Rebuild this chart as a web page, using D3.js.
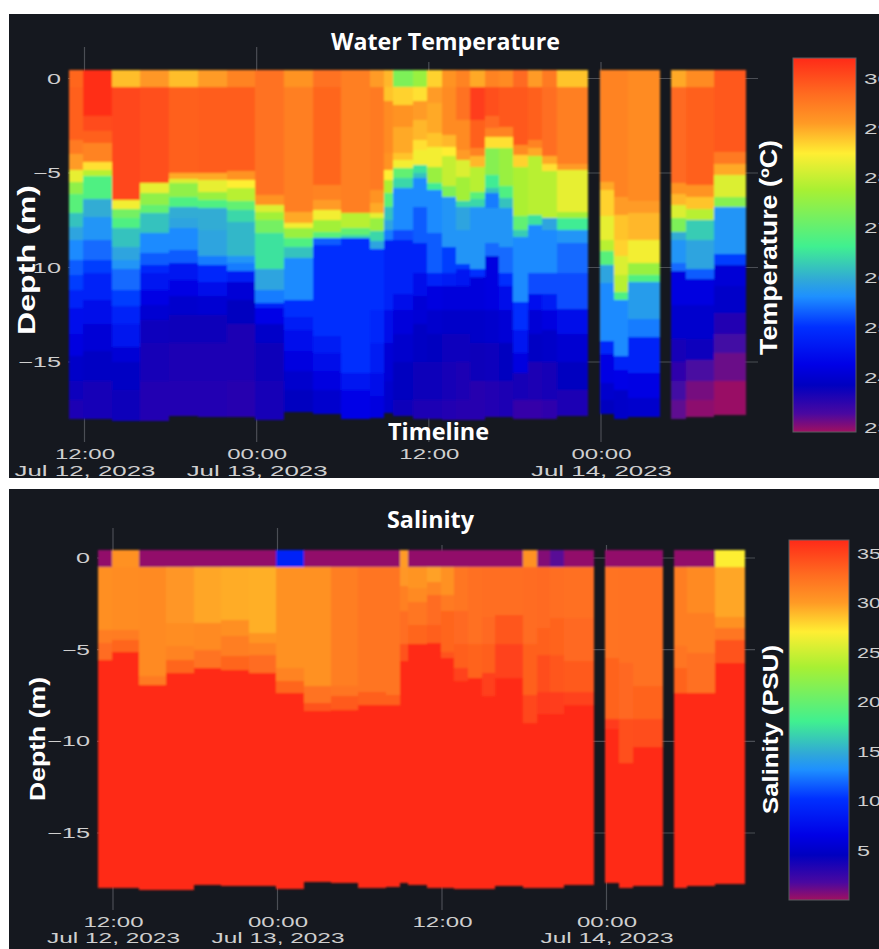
<!DOCTYPE html>
<html><head><meta charset="utf-8">
<style>html,body{margin:0;padding:0;background:#fff}svg{display:block}</style>
<script src="https://cdn.jsdelivr.net/npm/d3@7"></script>
</head><body>
<svg id="c" width="879" height="949"></svg>
<script>
// ---------- DATA ----------
// column edges, hours after 12:00 Jul 12 2023, one list per continuous block of data
const blockEdges = [
  [-1.1,-0.1,1.9,3.9,5.9,7.9,9.9,11.9,13.9,15.9,17.9,19.9,20.9,21.5,22.9,23.9,24.9,25.9,26.9,27.9,28.9,29.9,30.9,31.9,32.9,35.1],
  [35.9,36.9,37.9,40.1],
  [40.9,41.9,43.9,46.1]
];
// deepest sample of each column (m)
const bottomDepths = [18,18,18.1,18.1,17.85,17.9,17.9,18.05,17.65,17.75,18,17.95,17.7,17.85,18,18,18.05,18.05,18.05,17.9,17.9,18,18,18,17.85,17.75,18,17.9,18,17.9,17.8];
const surfaceTop = 0.45;
// each column: [depth of lower edge (m), temperature degC] from the surface down
const tempProfiles = [
 [[.47,29.75],[3.26,29.8],[4,29.5],[4.85,29.1],[5.45,28.3],[6.1,27.5],[7.14,26.9],[7.85,26.2],[8.55,25.9],[9.6,25.6],[10.4,25.3],[11.2,25.1],[12.15,24.8],[13.5,24.45],[14.7,24.2],[16,23.95],[17,23.8],[19,23.65]],
 [[2,30.35],[2.8,30.05],[3.4,29.8],[4.4,29.4],[4.85,28.6],[5.15,27.9],[6.4,26.8],[7.35,26],[8.55,25.7],[9.6,25.4],[10.3,25.1],[11.7,24.8],[13,24.4],[14.4,24.1],[16,23.9],[19,23.7]],
 [[.47,28.85],[6.42,30.1],[6.9,28.4],[7.4,27.2],[7.9,26.8],[8.9,26.2],[9.6,25.9],[10.1,25.7],[11.2,25.4],[12.05,25.1],[13,24.8],[14.2,24.55],[15,24.1],[16.5,23.9],[19,23.75]],
 [[.47,29.15],[5.54,30],[6.07,28.3],[6.7,27.5],[7.1,27],[8.2,26.2],[9.25,25.6],[9.85,25.3],[10.3,24.9],[11.2,24.6],[12,24.25],[12.8,24.05],[14,23.8],[16,23.7],[19,23.6]],
 [[.47,28.85],[4.98,29.8],[5.33,29],[5.54,28.2],[6.25,27.5],[6.8,26.8],[7.4,26],[7.9,25.9],[9.05,25.6],[9.77,25.3],[10.65,24.6],[11.5,24.25],[12.5,24],[14,23.75],[16,23.65],[19,23.6]],
 [[.47,29.1],[5,29.85],[5.36,29],[5.98,28.3],[6.42,27.6],[6.86,26.8],[8,26],[9.4,25.9],[9.85,25.5],[10.75,24.9],[11.5,24.4],[12.5,24.05],[14,23.75],[16,23.65],[19,23.6]],
 [[.47,29.4],[4.9,29.85],[5.36,29.2],[5.8,28.5],[6.5,27.9],[6.95,27],[7.57,26.4],[9.4,26.1],[9.77,25.7],[10.2,25.5],[10.75,24.7],[11.7,24.1],[13,23.85],[16,23.65],[19,23.55]],
 [[.47,29.6],[6.16,29.6],[6.7,29.2],[7.05,28.2],[7.5,27.7],[8.18,27.2],[10.1,26.5],[11.2,25.9],[11.9,25.5],[12.15,24.8],[13,24.3],[14,23.95],[16,23.75],[19,23.7]],
 [[.47,29.2],[7.05,29.45],[7.65,29],[7.9,28.4],[8.45,27.6],[8.9,26.8],[9.5,26.2],[11.7,25.6],[12.6,25],[13.3,24.75],[14.4,24.45],[15.5,24.2],[16.5,24],[19,23.85]],
 [[.47,29.6],[5.63,29.75],[6.42,29.4],[6.95,29.1],[7.5,28.4],[8.1,27.7],[8.45,26.9],[8.8,25.3],[13.65,25],[14.5,24.7],[15.5,24.4],[16.5,24.2],[19,24]],
 [[.47,29.45],[7.1,29.45],[7.9,27.9],[8.27,27],[8.45,26.4],[15.6,25],[16.5,24.6],[19,24.3]],
 [[.47,29.1],[5.9,29.5],[6.6,29.2],[7.13,29],[7.4,28.3],[8.05,27.6],[8.6,26.4],[9,25.9],[12.25,25],[14,24.9],[15.6,24.7],[16.8,24.4],[19,24.2]],
 [[.47,28.9],[1.2,28.8],[3.96,29.3],[4.84,29.2],[5.37,28.5],[6.07,27.8],[6.78,26.9],[7.5,26.2],[8,25.9],[8.55,25.5],[12.25,24.8],[14,24.4],[16,24.1],[19,24]],
 [[.47,27.3],[1.4,28.7],[2.55,29.2],[3.96,29],[4.3,28.8],[4.75,28.4],[5.28,27],[5.8,26.4],[8,25.6],[8.55,25.2],[11.4,24.8],[12.25,24.4],[13.5,24.15],[15,24],[17,23.85],[19,23.75]],
 [[.47,27.6],[1.2,28.6],[2.2,29.1],[3.25,28.9],[3.8,28.6],[4.6,28.4],[5,26.5],[5.28,26.2],[6.78,25.6],[8.7,25.3],[10.3,24.8],[11.5,24.4],[13,24.1],[15,23.9],[17,23.75],[19,23.65]],
 [[.47,28.7],[1.3,29.1],[2.9,29],[3.6,28.8],[4.66,28.4],[5.55,27.6],[5.9,26.6],[8.2,25.6],[10.3,25.3],[11,24.8],[12.25,24.2],[13.5,24],[15,23.85],[17,23.75],[19,23.65]],
 [[.47,29.2],[3,29.3],[3.6,28.9],[4.1,28.5],[5.7,28],[6.25,27.3],[8.9,25.7],[10.3,25.1],[11,24.7],[12.25,24.15],[13.5,23.95],[15,23.8],[17,23.7],[19,23.6]],
 [[.47,29.4],[2.2,29.6],[3.8,29.3],[4.3,29.1],[5.2,28.2],[6.5,27.7],[6.78,26.4],[8,25.9],[9.8,25.7],[10.1,25.1],[11,24.6],[12.25,24.15],[13.5,23.95],[15,23.8],[17,23.65],[19,23.55]],
 [[.47,29],[2.2,30.2],[3.7,29.8],[4.1,29.4],[4.66,28.9],[6,27.9],[6.4,26.9],[6.78,26.4],[10.1,25.7],[10.5,25],[12.25,24.15],[14,23.95],[16,23.75],[19,23.55]],
 [[.47,29.4],[2,30],[2.6,29.7],[3.1,29.4],[3.7,28.6],[5.1,27.4],[5.8,26.6],[6.07,26.2],[6.87,25.5],[8.7,25.7],[9.4,25.4],[12.25,24.2],[14,24],[16,23.8],[19,23.6]],
 [[.47,29.3],[2.55,29.9],[3.1,29.4],[3.7,28.6],[5.7,27.6],[6.3,26.8],[6.87,26.2],[8.9,25.7],[10.3,25.4],[11,25],[12.25,24.4],[14,24.1],[16,23.85],[19,23.65]],
 [[.47,29.7],[3.5,29.9],[4.05,29.3],[4.66,28.7],[7.3,27.8],[8,27],[8.4,26.3],[11.8,25.6],[13.3,25],[14.5,24.6],[15.6,24.2],[17,23.7],[19,23.45]],
 [[.47,29.1],[3.25,29.8],[3.7,29.4],[4.1,29],[7.2,27.9],[7.75,26.5],[10.3,25.6],[11.4,25.2],[12.25,24.5],[13.5,24.1],[15,23.9],[17,23.65],[19,23.45]],
 [[.47,29.5],[4.1,29.65],[4.5,29],[4.9,28.6],[7.4,27.9],[8,25.9],[10.3,25.6],[11.4,25.2],[12.25,24.7],[13.3,24.2],[15,23.95],[17,23.7],[19,23.5]],
 [[.47,28.8],[4.5,29.45],[4.84,29.1],[7.05,28.3],[7.4,27.7],[8,26.6],[8.7,25.7],[10.3,25.4],[12.2,25.2],[13.5,24.4],[15,24.05],[16.5,23.85],[19,23.65]],
 [[5.46,29.4],[5.9,29],[7.3,28.7],[8.55,28.3],[9.15,27.9],[9.86,26.9],[10.8,25.9],[13.9,25.6],[14.6,24.9],[16.1,24.25],[17,24],[19,23.85]],
 [[6.25,29.4],[7.2,29.1],[8.55,28.8],[9.4,28.7],[10.4,28.2],[11.27,27.9],[11.7,26.8],[14.7,25.6],[15.4,24.8],[16.5,24.3],[19,23.95]],
 [[6.5,29.3],[7.1,29.1],[8.55,28.9],[9.77,28.4],[10.4,27.6],[10.75,26.8],[12.7,25.8],[13.7,25.5],[15.6,24.8],[16.9,24.25],[19,24]],
 [[.47,29],[5.55,29.7],[6.1,29.2],[6.7,28.9],[7.4,28.2],[8.1,27.3],[8.55,26],[9.77,25.7],[10.2,25.4],[12,24.2],[13.8,24],[15,23.7],[16,23.5],[17,23.35],[19,23.2]],
 [[.47,29.3],[5.65,29.8],[6.25,29.2],[6.9,28.8],[7.5,27.9],[8.55,26.3],[10.1,25.9],[10.6,25.3],[12,24.2],[13.8,24],[14.9,23.8],[16,23.3],[17,23.1],[19,23]],
 [[3.9,29.9],[4.5,29.5],[5.1,29],[6.25,28.2],[6.8,27.4],[9.3,25.7],[9.86,25.1],[11,24.1],[12.4,23.95],[13.5,23.6],[14.5,23.35],[16,23.15],[19,22.95]]
];
// each column: [depth of lower edge (m), salinity PSU]
const salProfiles = [
 [[.5,.3],[3.92,30.7],[4.64,31.8],[5.55,32.8],[19,36.4]],
 [[.5,30.6],[3.92,30.9],[4.46,31.9],[5.1,33.2],[19,36.4]],
 [[.5,.3],[6.45,31],[6.9,32],[19,36.4]],
 [[.5,.3],[3.55,30.3],[4.8,30.8],[5.55,31.4],[6.28,33.2],[19,36.4]],
 [[.5,.3],[3.55,29.6],[5,31],[6,32.4],[19,36.4]],
 [[.5,.3],[3.37,29.4],[4.28,30.7],[5.37,31.7],[6.1,33.2],[19,36.4]],
 [[.5,.3],[4.1,29.3],[4.64,30.4],[5.28,31.4],[6.28,32.8],[19,36.4]],
 [[.5,9],[6,30.6],[6.73,31.4],[7.37,33.2],[19,36.4]],
 [[.5,.3],[7,30.6],[7.9,32.4],[8.35,34.2],[19,36.4]],
 [[.5,.3],[7,31.7],[7.55,32.3],[8.3,33.8],[19,36.4]],
 [[.5,.3],[7.3,32.3],[8,33.6],[19,36.4]],
 [[.5,.3],[7.46,32.3],[8,33.6],[19,36.4]],
 [[.5,30],[1.5,30.2],[2.9,31.6],[4.7,32.7],[5.6,34.2],[19,36.4]],
 [[.5,.3],[1.65,30.4],[2.4,31],[3.65,32.2],[4.7,33.2],[19,36.4]],
 [[.5,.3],[1.3,29.8],[2,31.3],[3.65,32.8],[4.65,33.6],[19,36.4]],
 [[.5,.3],[2,30.6],[2.9,32],[5.1,33.2],[5.46,34.2],[19,36.4]],
 [[.5,.3],[2.9,32.2],[4.7,33],[6,33.6],[6.7,35],[19,36.4]],
 [[.5,.3],[4.7,32.6],[6.55,33.3],[19,36.4]],
 [[.5,.3],[3.2,32.7],[4.7,33],[6.28,33.6],[7.5,35.2],[19,36.4]],
 [[.5,.3],[3.1,32.7],[4.7,34],[6.55,35],[19,36.4]],
 [[.5,.3],[3.1,32.7],[4.7,34],[6.55,35],[19,36.4]],
 [[.5,30.6],[4.7,32.8],[7.46,33.5],[9,34.8],[19,36.4]],
 [[.5,.6],[3.8,32.9],[5.28,33.5],[7.3,34.5],[8.5,35.5],[19,36.4]],
 [[.5,1.5],[3.28,32.7],[5.28,33.3],[7.3,34],[8.5,35.3],[19,36.4]],
 [[.5,.3],[3.28,32.6],[5.64,33],[7.3,33.8],[8,35],[19,36.4]],
 [[.5,.3],[5.46,32.4],[8.8,33.3],[9.3,35.5],[19,36.4]],
 [[.5,.3],[5.73,32.5],[8.8,33.1],[11.2,34.4],[19,36.4]],
 [[.5,.3],[7,32.5],[8.8,33.3],[10.3,34.5],[19,36.4]],
 [[.5,.3],[4.8,31.7],[6,32.3],[7.37,33.3],[19,36.4]],
 [[.5,.3],[3,31],[5.2,31.7],[7.37,32.6],[19,36.4]],
 [[.5,27],[3.2,29.6],[3.83,30.6],[4.46,32.2],[5.73,34.2],[19,36.4]]
];
const depthTicks = [0,-5,-10,-15];
const timeTicks = ["2023-07-12T12:00Z","2023-07-13T00:00Z","2023-07-13T12:00Z","2023-07-14T00:00Z"];
const timeLabels = ["12:00","00:00","12:00","00:00"];
const dateLabels = ["Jul 12, 2023","Jul 13, 2023","","Jul 14, 2023"];
const tempBarTicks = [30,29,28,27,26,25,24,23];
const salBarTicks = [35,30,25,20,15,10,5];
const scaleStops = [0,.049,.125,.18,.281,.362,.406,.496,.647,.745,.826,.906,1];
const scaleColors = ["#a01060","#4a08a0","#0000c0","#0000e6","#0030ff","#1e90ff","#30a8d8","#40f090","#a8f033","#ffee33","#ff9a25","#ff6a20","#ff2a18"];

// ---------- DRAW ----------
const svg = d3.select("#c");
const font = "'Liberation Sans',Arial,sans-serif";
const titleFont = "'Open Sans',sans-serif";
const colorOf = d3.scaleLinear().domain(scaleStops).range(scaleColors).interpolate(d3.interpolateRgb).clamp(true);
const defs = svg.append("defs");
defs.append("filter").attr("id","soft").attr("x","-2%").attr("y","-2%").attr("width","104%").attr("height","104%")
  .append("feGaussianBlur").attr("stdDeviation",0.8);
const grad = defs.append("linearGradient").attr("id","bar").attr("x1",0).attr("y1",1).attr("x2",0).attr("y2",0);
scaleStops.forEach((s,i)=>grad.append("stop").attr("offset",s).attr("stop-color",scaleColors[i]));
const t0 = Date.UTC(2023,6,12,12);
const toDate = h => new Date(t0 + h*3600e3);
let colIndex = [], k = 0;
blockEdges.forEach(ed=>{ for(let i=0;i<ed.length-1;i++) colIndex.push({a:ed[i],b:ed[i+1],i:k++}); });

function fit(sel,len){ return sel.attr("textLength",len).attr("lengthAdjust","spacingAndGlyphs"); }
function label(txt,x,y,len,size,fam,rot){
  const t = svg.append("text").text(txt).attr("fill","#fff").attr("font-weight",700).attr("font-family",fam).attr("font-size",size).attr("text-anchor","middle");
  if(rot) t.attr("transform",`translate(${x},${y}) rotate(-90)`); else t.attr("x",x).attr("y",y);
  return fit(t,len);
}

function panel(p){
  svg.append("rect").attr("x",9).attr("y",p.top).attr("width",870).attr("height",p.h).attr("fill","#15181f");
  const x = d3.scaleUtc().domain([new Date(timeTicks[0]),new Date(timeTicks[3])]).range(p.xr);
  const y = d3.scaleLinear().domain([0,-15]).range(p.yr);
  const v = d3.scaleLinear().domain(p.vd).range([0,1]);
  const plot = svg.append("g");
  // grid
  plot.selectAll("line.gx").data(timeTicks).join("line").attr("x1",d=>x(new Date(d))).attr("x2",d=>x(new Date(d)))
    .attr("y1",(d,i)=>p.gy[i]).attr("y2",p.gb).attr("stroke","#4b4e55").attr("stroke-width",1.2);
  plot.selectAll("line.gy").data(depthTicks).join("line").attr("x1",p.gx[0]).attr("x2",p.gx[1])
    .attr("y1",d=>y(d)).attr("y2",d=>y(d)).attr("stroke","#4b4e55").attr("stroke-width",1.2);
  // cells
  const cells = [];
  colIndex.forEach(c=>{
    let top = -surfaceTop;
    p.data[c.i].forEach(([d,val])=>{
      const bot = Math.min(d,bottomDepths[c.i]);
      if(bot>top) cells.push({a:c.a,b:c.b,top,bot,val});
      top = bot;
    });
  });
  plot.append("g").attr("filter","url(#soft)").selectAll("rect").data(cells).join("rect")
    .attr("x",d=>x(toDate(d.a))).attr("width",d=>x(toDate(d.b))-x(toDate(d.a)))
    .attr("y",d=>y(-d.top)).attr("height",d=>y(-d.bot)-y(-d.top))
    .attr("fill",d=>colorOf(v(d.val))).attr("shape-rendering","crispEdges");
  // axes
  const ay = svg.append("g").attr("transform",`translate(${p.ax},0)`)
    .call(d3.axisLeft(y).tickValues(depthTicks).tickSize(0).tickPadding(7).tickFormat(d=>d===0?"0":"\u2212"+Math.abs(d)));
  ay.select(".domain").remove();
  ay.selectAll("text").attr("fill","#cfcfcf").attr("font-family",font).attr("font-size",14.5)
    .each(function(d){ fit(d3.select(this),d===0?14:d===-5?28:43); });
  [[timeLabels,p.ty,60],[dateLabels,p.dy,p.dw]].forEach(([labels,yy,w])=>{
    const ax = svg.append("g").attr("transform",`translate(0,${yy})`)
      .call(d3.axisBottom(x).tickValues(timeTicks.map(d=>new Date(d))).tickSize(0).tickPadding(0).tickFormat((d,i)=>labels[i]));
    ax.select(".domain").remove();
    ax.selectAll("text").attr("fill","#cfcfcf").attr("font-family",font).attr("font-size",14.5).attr("dy","0.71em")
      .each(function(d,i){ if(labels[i]) fit(d3.select(this),w); });
  });
  // colorbar
  const bar = d3.scaleLinear().domain(p.vd).range(p.by);
  svg.append("rect").attr("x",p.bx[0]).attr("y",p.by[1]).attr("width",p.bx[1]-p.bx[0]).attr("height",p.by[0]-p.by[1])
    .attr("fill","url(#bar)").attr("stroke","#5a5c62").attr("stroke-width",1);
  const ac = svg.append("g").attr("transform",`translate(${p.bx[1]},0)`)
    .call(d3.axisRight(bar).tickValues(p.bt).tickSize(0).tickPadding(p.bp));
  ac.select(".domain").remove();
  ac.selectAll("text").attr("fill","#cfcfcf").attr("font-family",font).attr("font-size",14.5)
    .each(function(d){ fit(d3.select(this),d<10?13:p.bw); });
}

panel({top:14,h:464,data:tempProfiles,vd:[22.92,30.41],xr:[84.5,601],yr:[78.5,362],gy:[47,47,62,62],gb:442,gx:[68,758],ax:68,
  ty:449,dy:466,dw:141,bx:[793,856],by:[432,58],bt:tempBarTicks,bp:8,bw:27});
panel({top:489,h:460,data:salProfiles,vd:[0,36.36],xr:[113,606.5],yr:[558,833],gy:[528,528,545,545],gb:910,gx:[97,755],ax:97,
  ty:917,dy:933,dw:133,bx:[789,849],by:[900,540],bt:salBarTicks,bp:8,bw:24});

label("Water Temperature",445.5,50,229,24,titleFont);
label("Timeline",438.5,440,101,24,titleFont);
label("Salinity",430.5,528,87,24,titleFont);
label("Depth (m)",35,260,150,23,font,true);
label("Temperature (\u00baC)",777,247.5,215,23,font,true);
label("Depth (m)",45,739,124,22,font,true);
label("Salinity (PSU)",778,729.5,169,22,font,true);
</script>
</body></html>
